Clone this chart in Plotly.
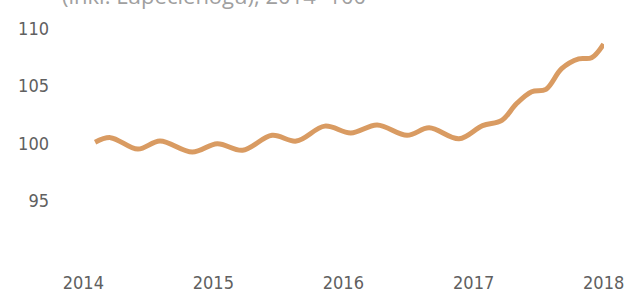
import plotly.graph_objects as go

# Data (index, 2014=100)
dates = [
    "2014-02-03", "2014-03-18", "2014-06-03", "2014-08-04", "2014-11-03",
    "2015-01-12", "2015-03-24", "2015-06-15", "2015-08-22", "2015-11-10",
    "2016-01-22", "2016-04-05", "2016-06-28", "2016-08-29", "2016-11-21",
    "2017-01-26", "2017-03-21", "2017-05-01", "2017-06-13", "2017-07-23",
    "2017-09-05", "2017-10-23", "2017-11-28", "2018-01-01",
]
values = [
    100.1, 100.5, 99.5, 100.2, 99.25,
    99.97, 99.4, 100.7, 100.2, 101.5,
    100.9, 101.6, 100.7, 101.35, 100.4,
    101.55, 102.0, 103.45, 104.5, 104.7,
    106.5, 107.35, 107.45, 108.65,
]
x_tick_vals = ["2014-01-01", "2015-01-01", "2016-01-01", "2017-01-01", "2018-01-01"]
x_tick_text = ["2014", "2015", "2016", "2017", "2018"]
y_tick_vals = [95, 100, 105, 110]
title_text = "(inkl. Lupeclenogu), 2014=100"

fig = go.Figure()
fig.add_trace(go.Scatter(
    x=dates, y=values, mode="lines",
    line=dict(color="#D99B62", width=5, shape="spline", smoothing=1.0),
    hoverinfo="skip",
))

tick_font = dict(family="DejaVu Sans Condensed, sans-serif",
                 size=18, color="#606060", weight=300)

fig.update_layout(
    width=628, height=295,
    margin=dict(l=83, r=24, t=17, b=31),
    paper_bgcolor="white", plot_bgcolor="white",
    showlegend=False,
    xaxis=dict(
        range=["2013-12-31", "2018-01-02"],
        tickvals=x_tick_vals, ticktext=x_tick_text,
        showgrid=False, zeroline=False, showline=False, ticks="",
        tickfont=tick_font, ticklabelstandoff=6, automargin=False,
    ),
    yaxis=dict(
        range=[89.5, 111],
        tickvals=y_tick_vals,
        showgrid=False, zeroline=False, showline=False, ticks="",
        tickfont=tick_font, ticklabelstandoff=33, automargin=False,
    ),
    annotations=[dict(
        text=title_text, xref="paper", yref="paper",
        x=-0.044, y=1.022, xanchor="left", yanchor="bottom",
        showarrow=False,
        font=dict(family="Open Sans, sans-serif", size=22, color="#a0a0a0"),
    )],
)

fig.write_html("out.html", config={"displayModeBar": False},
               post_script="document.body.style.margin='0';")
